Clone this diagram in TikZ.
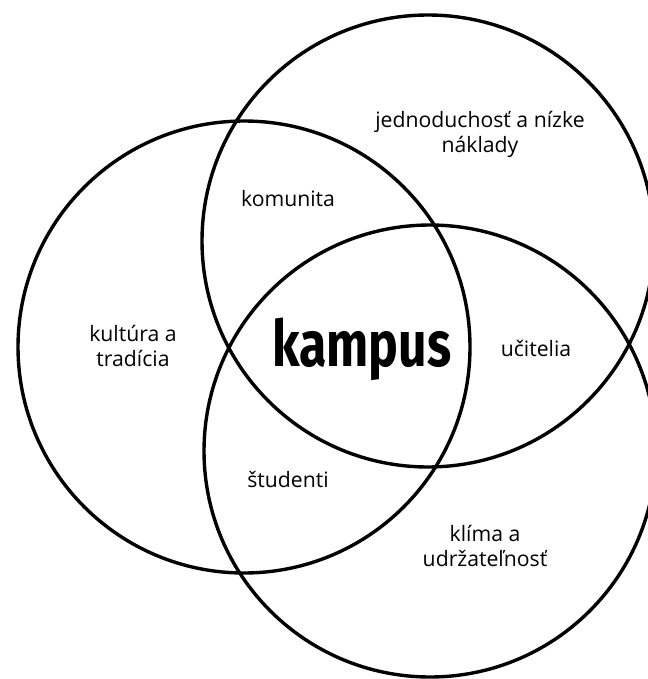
\documentclass[tikz,border=0pt]{standalone}
\usepackage{fontspec}
\setmainfont{Open Sans}
\newfontfamily\kampusfont[FakeStretch=0.78]{Fira Sans}
\usepackage{tikz}
\usetikzlibrary{positioning}

\begin{document}
\begin{tikzpicture}[
      x=1pt, y=-1pt,
      ring/.style={draw, circle, line width=3.4pt, minimum size=452pt, inner sep=0pt},
      lbl/.style={align=center, font=\fontsize{21.2}{25}\selectfont, inner sep=0pt},
      hub/.style={font=\kampusfont\bfseries\fontsize{64}{64}\selectfont, inner sep=0pt}
    ]
    \useasboundingbox (0,0) rectangle (647,679);
    \node[ring] (tradicia) at (244,347) {};
    \node[ring] (naklady) at (428,241) {};
    \node[ring] (klima) at (430,451) {};
    \node[hub] (kampus) at (362,349) {kampus};
    \node[lbl] (jednoduchost) at (480,134) {jednoduchosť a nízke\\náklady};
    \node[lbl] (komunita) at (288,199) {komunita};
    \node[lbl] (kultura) at (133,346) {kultúra a\\tradícia};
    \node[lbl] (ucitelia) at (536,348) {učitelia};
    \node[lbl] (studenti) at (288,479) {študenti};
    \node[lbl] (klimalbl) at (485,546) {klíma a\\udržateľnosť};
  \end{tikzpicture}
\end{document}
